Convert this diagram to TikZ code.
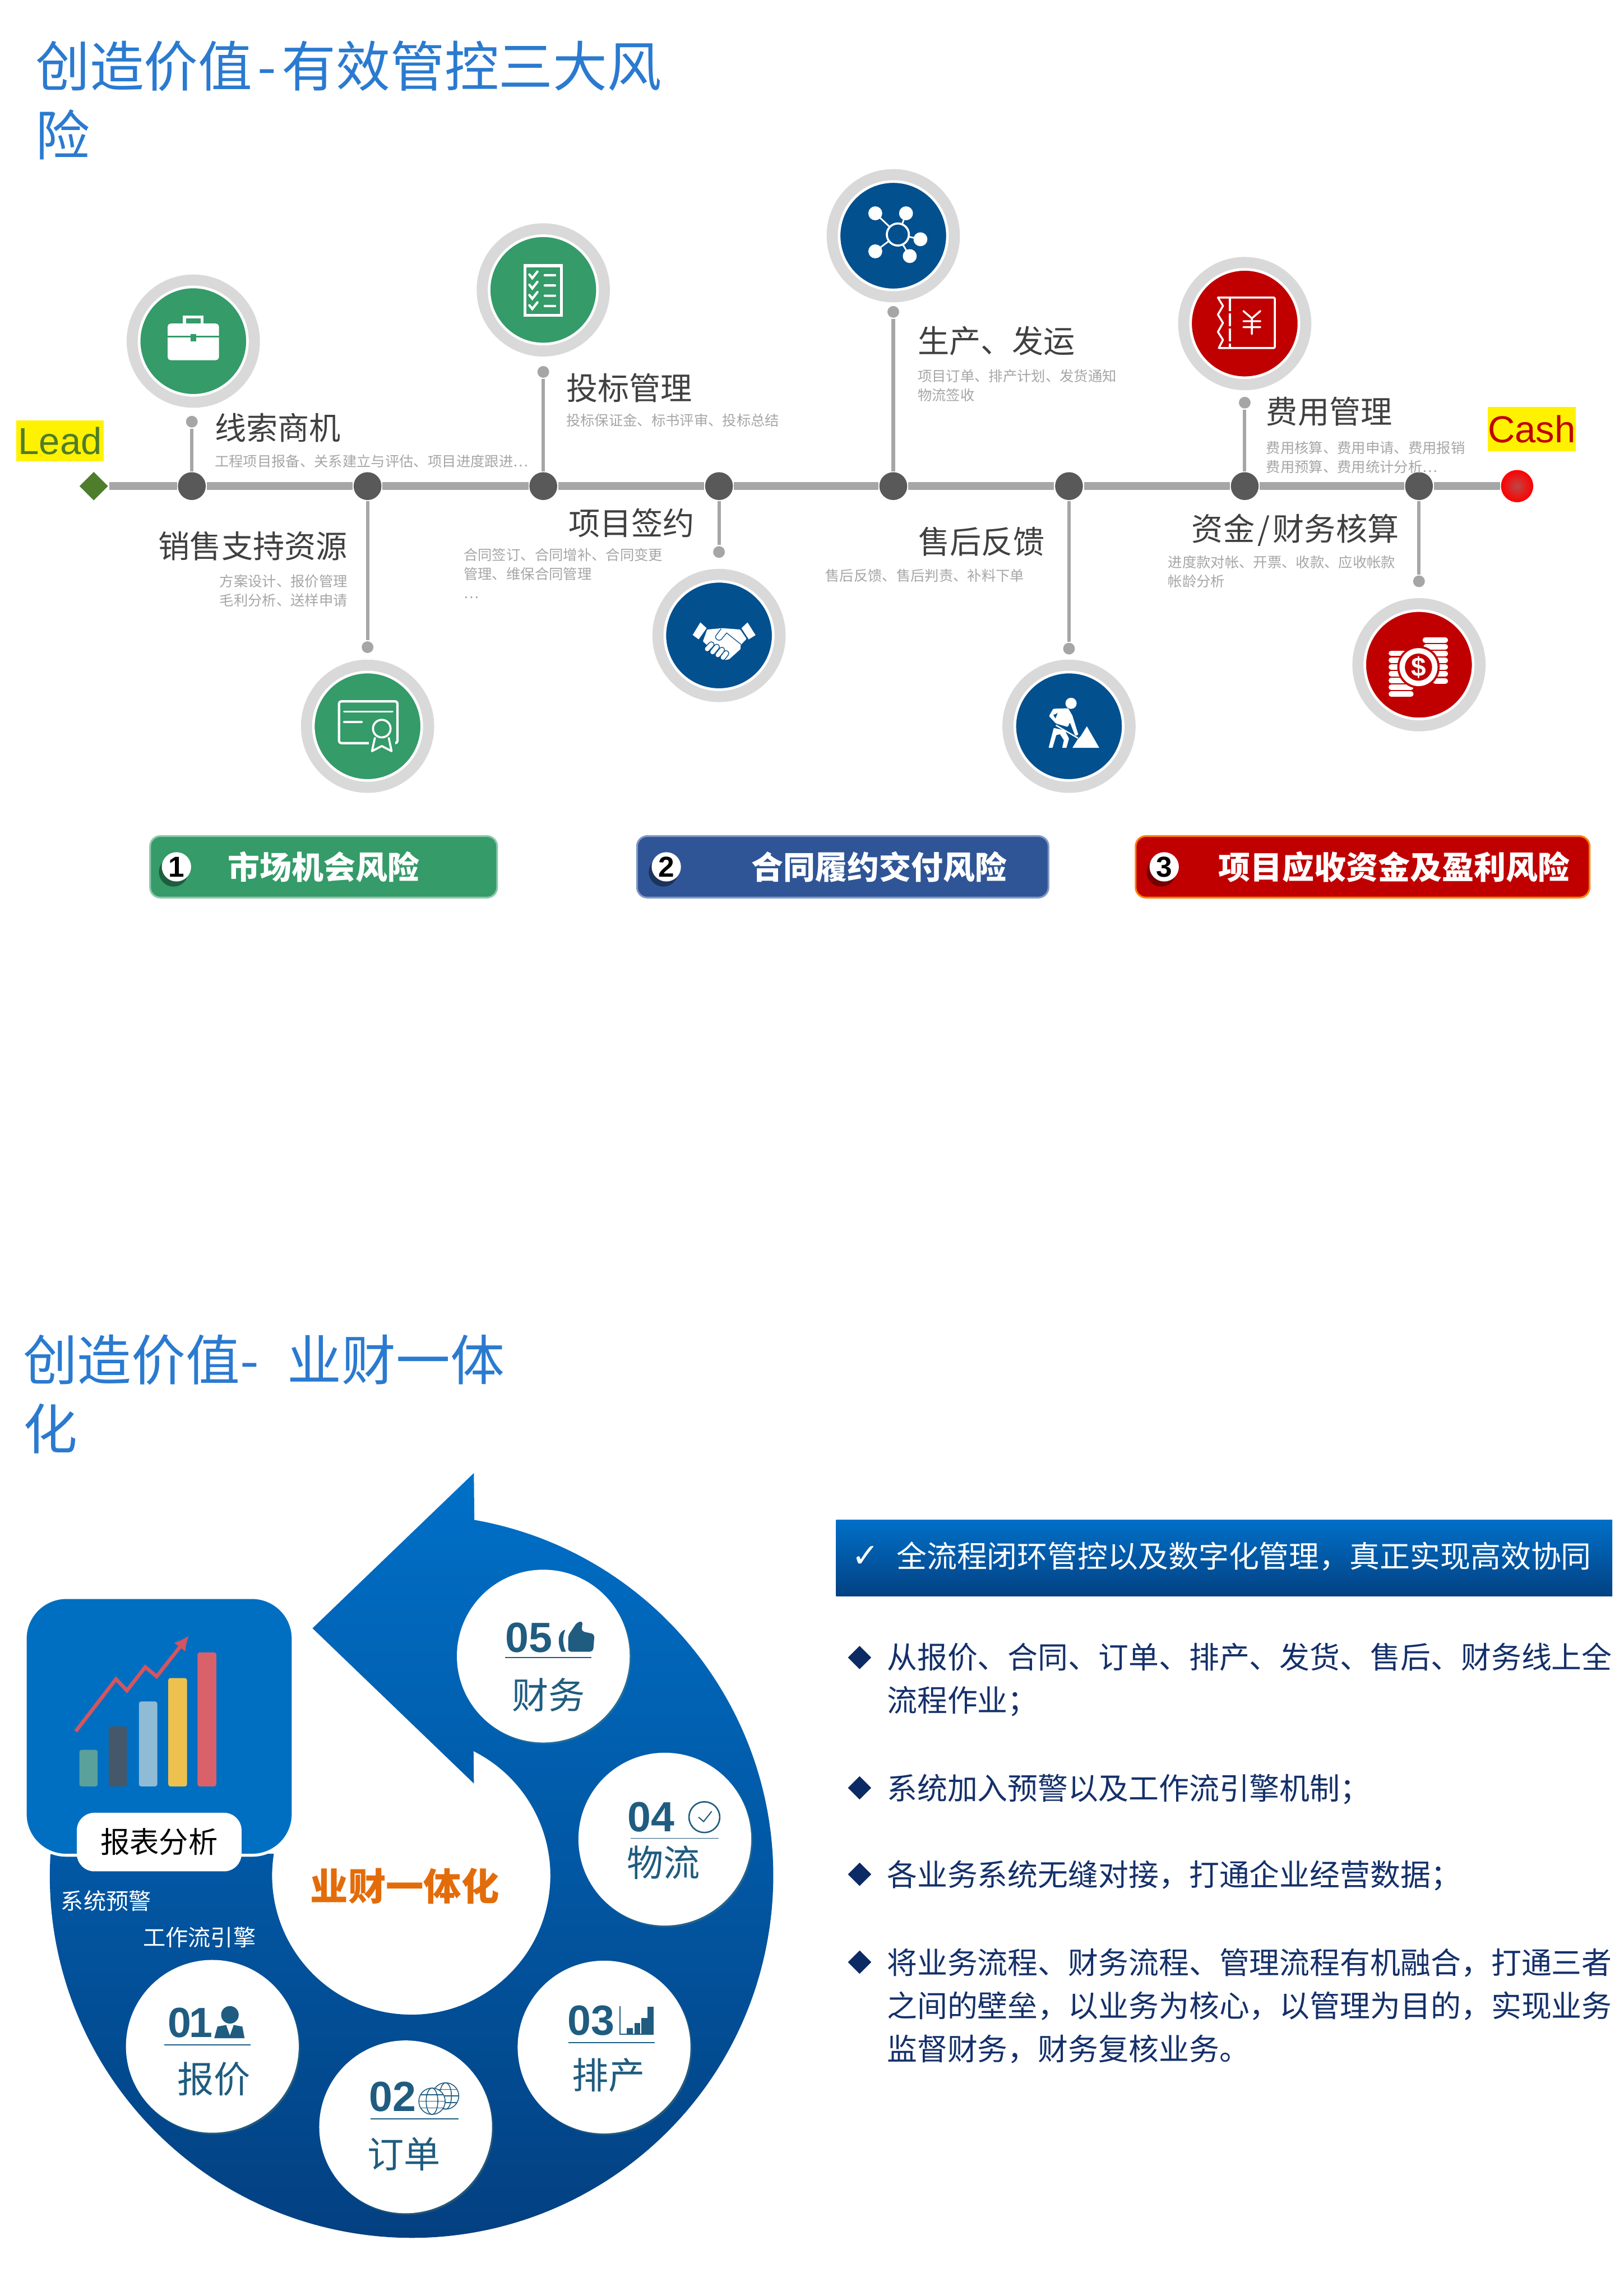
\documentclass[tikz,border=0pt]{standalone}
\usepackage{fontspec}
\usepackage{xcolor}
\usetikzlibrary{shapes.geometric,shadows,arrows.meta}
\setmainfont{Noto Sans CJK SC}
\newfontfamily\latinfont{Liberation Sans}
\newfontfamily\symfont{DejaVu Sans}

\definecolor{titleblue}{HTML}{2A7AD0}
\definecolor{linegray}{HTML}{A6A6A6}
\definecolor{dotgray}{HTML}{595959}
\definecolor{ringgray}{HTML}{D9D9D9}
\definecolor{darktext}{HTML}{404040}
\definecolor{badgegreen}{HTML}{349B69}
\definecolor{badgeblue}{HTML}{03508F}
\definecolor{badgered}{HTML}{C00000}
\definecolor{leadgreen}{HTML}{4E7D2B}
\definecolor{btnblue}{HTML}{2F5597}
\definecolor{ringtop}{HTML}{0070C8}
\definecolor{ringmid}{HTML}{005CAC}
\definecolor{ringbot}{HTML}{033E7E}
\definecolor{rptblue}{HTML}{006FC2}
\definecolor{stepblue}{HTML}{1F5C80}
\definecolor{navytext}{HTML}{14306A}
\definecolor{navymark}{HTML}{0C2A63}
\definecolor{orangetext}{HTML}{E36C0A}

\tikzset{
	mainline/.style={line width=.053cm,color=linegray},
	stemline/.style={line width=.023cm,color=linegray},
	tldot/.style={circle,fill=dotgray,inner sep=0pt,minimum size=.19cm},
	tiptop/.style={circle,fill=linegray,inner sep=0pt,minimum size=.08cm},
	badge/.style={circle,inner sep=0pt,minimum size=.74cm,fill=#1,draw=white,line width=.018cm,
		preaction={draw=ringgray,line width=.17cm}},
	iconpx/.style={x=.001166cm,y=-.001166cm},
	pagetitle/.style={anchor=west,align=left,inner sep=0pt,text=titleblue,font=\fontsize{10.55}{13.4}\selectfont},
	tlhead/.style={inner sep=0pt,text=darktext,font=\fontsize{6.12}{7.5}\selectfont},
	tlnote/.style={inner sep=0pt,text=linegray,font=\fontsize{2.76}{3.7}\selectfont},
	flag/.style={fill=yellow,inner sep=0pt,minimum width=.6cm,font=\latinfont\fontsize{7.3}{9}\selectfont},
	riskbtn/.style={rectangle,rounded corners=.07cm,minimum height=.42cm,line width=.012cm,inner sep=0pt},
	risktxt/.style={inner sep=0pt,text=white,font=\bfseries\fontsize{6.2}{7.5}\selectfont},
	riskno/.style={circle,fill=white,inner sep=0pt,minimum size=.2cm,
		font=\latinfont\bfseries\fontsize{5.6}{6}\selectfont,
		drop shadow={shadow xshift=-.02cm,shadow yshift=-.035cm,fill=black,opacity=.4}},
	stepdisc/.style={circle,fill=white,inner sep=0pt,minimum size=1.18cm,
		drop shadow={shadow xshift=.01cm,shadow yshift=-.012cm,fill=black!40!yellow,opacity=.2}},
	stepno/.style={anchor=west,inner sep=0pt,text=stepblue,font=\latinfont\bfseries\fontsize{8.2}{9}\selectfont},
	steptxt/.style={inner sep=0pt,text=stepblue,font=\fontsize{7.1}{8}\selectfont},
	stepline/.style={line width=.006cm,color=stepblue},
	whitenote/.style={anchor=west,inner sep=0pt,text=white,font=\fontsize{4.38}{5}\selectfont},
	bullet/.style={diamond,fill=navymark,inner sep=0pt,minimum size=.165cm},
	itemtxt/.style={anchor=west,align=left,inner sep=0pt,text=navytext,font=\fontsize{5.87}{8.42}\selectfont},
}

\begin{document}
\begin{tikzpicture}
	\useasboundingbox (0,0) rectangle (11.09,15.68);

	% Titles
	\node[pagetitle] (title1) at (.235,14.995) {创造价值\hspace{.035cm}-\hspace{.035cm}有效管控三大风\\险};
	\node[pagetitle] (title2) at (.15,6.16) {创造价值-\hspace{.11cm} 业财一体\\化};

	% Timeline ends and points
	\node[diamond,fill=leadgreen,inner sep=0pt,minimum size=.2cm] (lead) at (.64,12.36) {};
	\node[circle,inner sep=0pt,minimum size=.22cm,inner color={rgb,255:red,190;green,70;blue,70},outer color=red] (cash) at (10.36,12.36) {};
	\node[tldot] (d1) at (1.31,12.36) {};
	\node[tldot] (d2) at (2.51,12.36) {};
	\node[tldot] (d3) at (3.71,12.36) {};
	\node[tldot] (d4) at (4.91,12.36) {};
	\node[tldot] (d5) at (6.10,12.36) {};
	\node[tldot] (d6) at (7.30,12.36) {};
	\node[tldot] (d7) at (8.50,12.36) {};
	\node[tldot] (d8) at (9.69,12.36) {};
	\draw[mainline] (lead) -- (d1) -- (d2) -- (d3) -- (d4) -- (d5) -- (d6) -- (d7) -- (d8) -- (cash);

	% Stems
	\node[tiptop] (t1) at (1.31,12.80) {};
	\node[tiptop] (t2) at (2.51,11.26) {};
	\node[tiptop] (t3) at (3.71,13.14) {};
	\node[tiptop] (t4) at (4.91,11.91) {};
	\node[tiptop] (t5) at (6.10,13.55) {};
	\node[tiptop] (t6) at (7.30,11.25) {};
	\node[tiptop] (t7) at (8.50,12.93) {};
	\node[tiptop] (t8) at (9.69,11.71) {};
	\draw[stemline] (d1) -- (t1);
	\draw[stemline] (d2) -- (t2);
	\draw[stemline] (d3) -- (t3);
	\draw[stemline] (d4) -- (t4);
	\draw[stemline] (d5) -- (t5);
	\draw[stemline] (d6) -- (t6);
	\draw[stemline] (d7) -- (t7);
	\draw[stemline] (d8) -- (t8);

	% Lead and Cash flags
	\node[flag,minimum height=.28cm,text=leadgreen] (leadflag) at (.41,12.67) {Lead};
	\node[flag,minimum height=.30cm,text=badgered] (cashflag) at (10.46,12.75) {Cash};

	% Badges
	\node[badge=badgegreen] (ic1) at (1.32,13.35) {};
	\node[badge=badgegreen] (ic2) at (3.71,13.70) {};
	\node[badge=badgegreen] (ic3) at (2.51,10.72) {};
	\node[badge=badgeblue] (ic4) at (4.91,11.34) {};
	\node[badge=badgeblue] (ic5) at (6.10,14.07) {};
	\node[badge=badgeblue] (ic6) at (7.30,10.72) {};
	\node[badge=badgered] (ic7) at (8.50,13.47) {};
	\node[badge=badgered] (ic8) at (9.69,11.14) {};

	% Briefcase
	\begin{scope}[shift={(ic1.center)}]
		\fill[white,rounded corners=.02cm] (-.175,-.13) rectangle (.175,.12);
		\draw[white,line width=.022cm] (-.06,.12) -- (-.06,.165) -- (.06,.165) -- (.06,.12);
		\draw[badgegreen,line width=.012cm] (-.175,.03) -- (.175,.03);
		\fill[badgegreen] (-.02,0) rectangle (.02,.05);
	\end{scope}

	% Checklist
	\begin{scope}[shift={(ic2.center)},line cap=round]
		\draw[white,line width=.02cm] (-.125,-.175) rectangle (.125,.165);
		\draw[white,line width=.016cm] (-.095,.105) -- (-.075,.08) -- (-.04,.125) (.01,.10) -- (.08,.10);
		\draw[white,line width=.016cm] (-.095,.035) -- (-.075,.01) -- (-.04,.055) (.01,.03) -- (.08,.03);
		\draw[white,line width=.016cm] (-.095,-.035) -- (-.075,-.06) -- (-.04,-.015) (.01,-.04) -- (.08,-.04);
		\draw[white,line width=.016cm] (-.095,-.105) -- (-.075,-.13) -- (-.04,-.085) (.01,-.11) -- (.08,-.11);
	\end{scope}

	% Certificate
	\begin{scope}[shift={(ic3.center)},line cap=round,line join=round]
		\draw[white,line width=.016cm,rounded corners=.015cm] (-.195,-.115) rectangle (.204,.17);
		\fill[badgegreen] (.01,-.19) rectangle (.19,.07);
		\draw[white,line width=.014cm] (-.16,.10) -- (.17,.10) (-.16,.03) -- (-.04,.03);
		\draw[white,line width=.014cm] (.097,-.016) circle (.06);
		\draw[white,line width=.014cm] (.05,-.08) -- (.03,-.17) -- (.097,-.135) -- (.164,-.17) -- (.145,-.08);
		\draw[white,line width=.016cm] (.204,.07) -- (.204,-.07);
	\end{scope}

	% Handshake
	\begin{scope}[shift={(ic4.center)},iconpx,shift={(-310,-305)}]
		\fill[white] (200,228) -- (237,262) -- (190,328) -- (155,302) -- cycle;
		\fill[white] (478,228) -- (525,303) -- (485,328) -- (442,262) -- cycle;
		\fill[white,rounded corners=.004cm] (240,270) -- (330,262) -- (435,270) -- (472,325) -- (437,362) -- (437,385) -- (370,445) -- (345,450) -- (300,415) -- (215,340) -- cycle;
		\draw[badgeblue,line width=.005cm,line join=round] (322,266) -- (290,308) .. controls (285,325) and (305,340) .. (322,330) -- (355,290) -- (440,358);
		\draw[badgeblue,line width=.042cm,line cap=round] (240,385) -- (265,358) (272,403) -- (297,372) (303,420) -- (327,390) (333,435) -- (352,410);
		\draw[white,line width=.03cm,line cap=round] (240,385) -- (265,358) (272,403) -- (297,372) (303,420) -- (327,390) (333,435) -- (352,410);
	\end{scope}

	% Hub with five satellites
	\begin{scope}[shift={(ic5.center)},iconpx,shift={(-318,-332)}]
		\draw[white,line width=.014cm] (345,325) circle[radius=65];
		\draw[white,line width=.011cm] (212,200) -- (297,280) (393,200) -- (370,265) (478,353) -- (410,338) (212,424) -- (290,365) (415,452) -- (375,385);
		\fill[white] (212,200) circle[radius=41];
		\fill[white] (393,200) circle[radius=41];
		\fill[white] (478,353) circle[radius=41];
		\fill[white] (212,424) circle[radius=41];
		\fill[white] (415,452) circle[radius=41];
	\end{scope}

	% Digger at a mound
	\begin{scope}[shift={(ic6.center)},iconpx,shift={(-325,-328)}]
		\fill[white] (337,193) circle[radius=33];
		\fill[white,rounded corners=.005cm] (232,225) -- (320,222) -- (345,265) -- (380,378) -- (362,385) -- (330,305) -- (318,332) -- (248,312) -- (207,268) -- cycle;
		\fill[badgeblue] (233,262) -- (258,250) -- (245,282) -- cycle;
		\fill[white,rounded corners=.003cm] (205,455) -- (235,338) -- (300,352) -- (325,400) -- (310,455) -- (285,455) -- (295,410) -- (272,375) -- (250,380) -- (228,455) -- cycle;
		\draw[white,line width=.009cm] (248,322) -- (378,398);
		\fill[white,rounded corners=.002cm] (345,455) -- (378,402) -- (395,385) -- (430,328) -- (503,455) -- cycle;
	\end{scope}

	% Receipt with yen
	\begin{scope}[shift={(ic7.center)},iconpx,shift={(-333,-336)},line join=round,line cap=round]
		\draw[white,line width=.013cm] (175,183) -- (505,183) -- (510,188) -- (510,475) -- (505,480) -- (180,480) -- (205,432) -- (175,385) -- (205,332) -- (175,283) -- (205,232) -- cycle;
		\draw[white,line width=.016cm,line cap=butt,dash pattern=on .09cm off .014cm] (245,185) -- (245,478);
		\draw[white,line width=.013cm] (325,262) -- (375,305) -- (425,262) (375,305) -- (375,398) (325,322) -- (425,322) (325,357) -- (425,357);
	\end{scope}

	% Coins
	\begin{scope}[shift={(ic8.center)},iconpx,shift={(-333,-324)},line cap=round]
		\draw[white,line width=.037cm] (170,257) -- (280,257) (170,297) -- (280,297) (170,337) -- (280,337) (170,377) -- (280,377) (170,417) -- (280,417) (170,457) -- (285,457) (170,497) -- (285,497);
		\draw[white,line width=.037cm] (370,178) -- (488,178) (375,218) -- (488,218) (380,258) -- (488,258) (380,298) -- (488,298) (380,338) -- (488,338) (380,378) -- (488,378) (430,420) -- (488,420);
		\fill[badgered] (330,338) circle[radius=125];
		\fill[white] (330,338) circle[radius=112];
		\fill[badgered] (330,338) circle[radius=80];
		\node[inner sep=0pt,text=white,font=\latinfont\bfseries\fontsize{5.2}{6}\selectfont] (dollar) at (330,338) {\$};
	\end{scope}

	% Timeline labels
	\node[tlhead,anchor=west] (h1) at (1.46,12.76) {线索商机};
	\node[tlnote,anchor=west] (n1) at (1.46,12.53) {工程项目报备、关系建立与评估、项目进度跟进…};
	\node[tlhead,anchor=east] (h2) at (2.38,11.95) {销售支持资源};
	\node[tlnote,anchor=east,align=right] (n2) at (2.38,11.645) {方案设计、报价管理\\毛利分析、送样申请};
	\node[tlhead,anchor=west] (h3) at (3.86,13.03) {投标管理};
	\node[tlnote,anchor=west] (n3) at (3.86,12.81) {投标保证金、标书评审、投标总结};
	\node[tlhead,anchor=east] (h4) at (4.75,12.11) {项目签约};
	\node[tlnote,anchor=west,align=left] (n4) at (3.16,11.765) {合同签订、合同增补、合同变更\\管理、维保合同管理\\…};
	\node[tlhead,anchor=west] (h5) at (6.26,13.35) {生产、发运};
	\node[tlnote,anchor=west,align=left] (n5) at (6.26,13.045) {项目订单、排产计划、发货通知\\物流签收};
	\node[tlhead,anchor=east] (h6) at (7.14,11.98) {售后反馈};
	\node[tlnote,anchor=west] (n6) at (5.63,11.75) {售后反馈、售后判责、补料下单};
	\node[tlhead,anchor=west] (h7) at (8.64,12.87) {费用管理};
	\node[tlnote,anchor=west,align=left] (n7) at (8.64,12.555) {费用核算、费用申请、费用报销\\费用预算、费用统计分析…};
	\node[tlhead,anchor=east] (h8) at (9.56,12.06) {资金\hspace{.02cm}/\hspace{.02cm}财务核算};
	\node[tlnote,anchor=west,align=left] (n8) at (7.97,11.775) {进度款对帐、开票、收款、应收帐款\\帐龄分析};

	% Risk buttons
	\node[riskbtn,fill=badgegreen,draw=badgegreen!55!white,minimum width=2.37cm] (btn1) at (2.21,9.76) {};
	\node[riskbtn,fill=btnblue,draw=btnblue!60!white,minimum width=2.81cm] (btn2) at (5.755,9.76) {};
	\node[riskbtn,fill=badgered,draw=orange,minimum width=3.10cm] (btn3) at (9.305,9.76) {};
	\node[riskno] (no1) at (1.205,9.76) {1};
	\node[riskno] (no2) at (4.55,9.76) {2};
	\node[riskno] (no3) at (7.95,9.76) {3};
	\node[risktxt,anchor=west] (risk1) at (1.55,9.76) {市场机会风险};
	\node[risktxt,anchor=west] (risk2) at (5.125,9.76) {合同履约交付风险};
	\node[risktxt,anchor=west] (risk3) at (8.315,9.76) {项目应收资金及盈利风险};

	% Curved arrow
	\shade[top color=ringtop,middle color=ringmid,bottom color=ringbot]
		(3.236,5.62) -- (3.239,5.30)
		arc[start angle=80,end angle=-183.5,radius=2.47]
		-- (1.87,3.02)
		arc[start angle=-189,end angle=63.4,radius=.95]
		-- (3.236,3.50) -- (2.134,4.56) -- cycle;

	% Report box
	\node[rectangle,rounded corners=.28cm,fill=rptblue,draw=white,line width=.02cm,minimum width=1.83cm,minimum height=1.76cm] (rptbox) at (1.087,3.89) {};
	\fill[rounded corners=.015cm,fill={rgb,255:red,90;green,161;blue,155}] (.542,3.48) rectangle (.667,3.73);
	\fill[rounded corners=.015cm,fill={rgb,255:red,68;green,88;blue,106}] (.742,3.48) rectangle (.867,3.89);
	\fill[rounded corners=.015cm,fill={rgb,255:red,143;green,188;blue,212}] (.949,3.48) rectangle (1.074,4.06);
	\fill[rounded corners=.015cm,fill={rgb,255:red,238;green,193;blue,79}] (1.149,3.48) rectangle (1.277,4.22);
	\fill[rounded corners=.015cm,fill={rgb,255:red,217;green,98;blue,106}] (1.349,3.48) rectangle (1.477,4.395);
	\draw[-{Latex[length=.1cm,width=.1cm]},line width=.025cm,color={rgb,255:red,212;green,85;blue,95}] (.517,3.856) -- (.792,4.213) -- (.867,4.135) -- (.992,4.295) -- (1.07,4.231) -- (1.29,4.51);
	\node[rectangle,rounded corners=.12cm,fill=white,inner sep=0pt,minimum width=1.125cm,minimum height=.40cm,font=\fontsize{5.7}{7}\selectfont] (rptlabel) at (1.087,3.10) {\raisebox{-.02cm}{报表分析}};
	\node[whitenote] (warn) at (.41,2.70) {系统预警};
	\node[whitenote] (flow) at (.97,2.45) {工作流引擎};

	% Centre label
	\node[inner sep=0pt,text=orangetext,font=\bfseries\fontsize{7.34}{9}\selectfont] (centre) at (2.765,2.80) {业财一体化};

	% Step discs
	\node[stepdisc] (s5) at (3.71,4.37) {};
	\node[stepdisc] (s4) at (4.54,3.12) {};
	\node[stepdisc] (s3) at (4.125,1.70) {};
	\node[stepdisc] (s2) at (2.77,1.155) {};
	\node[stepdisc] (s1) at (1.45,1.705) {};

	% Step 05
	\node[stepno] (no05) at (3.445,4.495) {05};
	\draw[stepline] (3.45,4.36) -- (4.04,4.36);
	\node[steptxt] (txt5) at (3.745,4.105) {财务};
	\fill[stepblue] (3.835,4.40) .. controls (3.80,4.47) and (3.815,4.54) .. (3.86,4.55) .. controls (3.84,4.50) and (3.84,4.45) .. (3.865,4.40) -- cycle;
	\fill[stepblue,rounded corners=.02cm] (3.88,4.40) -- (4.05,4.40) -- (4.06,4.52) -- (3.97,4.54) -- (3.98,4.61) -- (3.94,4.60) -- (3.88,4.51) -- cycle;

	% Step 04
	\node[stepno] (no04) at (4.28,3.27) {04};
	\draw[stepblue,line width=.01cm] (4.81,3.27) circle (.105);
	\draw[stepblue,line width=.008cm] (4.77,3.27) -- (4.805,3.24) -- (4.86,3.31);
	\draw[stepline] (4.306,3.125) -- (4.906,3.125);
	\node[steptxt] (txt4) at (4.53,2.96) {物流};

	% Step 03
	\node[stepno] (no03) at (3.87,1.88) {03};
	\draw[stepblue,line width=.008cm] (4.235,1.98) -- (4.235,1.787) -- (4.465,1.787);
	\fill[stepblue] (4.28,1.79) rectangle (4.32,1.83);
	\fill[stepblue] (4.333,1.79) rectangle (4.373,1.865);
	\fill[stepblue] (4.38,1.79) rectangle (4.42,1.90);
	\fill[stepblue] (4.423,1.79) rectangle (4.463,1.976);
	\draw[stepline] (3.88,1.73) -- (4.47,1.73);
	\node[steptxt] (txt3) at (4.155,1.51) {排产};

	% Step 02
	\node[stepno] (no02) at (2.515,1.36) {02};
	\begin{scope}[stepblue,line width=.006cm]
		\draw (3.043,1.366) circle (.09);
		\draw (3.043,1.366) ellipse (.04 and .09);
		\draw (2.953,1.366) -- (3.133,1.366) (2.965,1.41) -- (3.121,1.41) (2.965,1.32) -- (3.121,1.32);
		\fill[white] (2.95,1.33) circle (.09);
		\draw (2.95,1.33) circle (.09);
		\draw (2.95,1.33) ellipse (.04 and .09);
		\draw (2.86,1.33) -- (3.04,1.33) (2.872,1.375) -- (3.028,1.375) (2.872,1.285) -- (3.028,1.285);
	\end{scope}
	\draw[stepline] (2.53,1.21) -- (3.13,1.21);
	\node[steptxt] (txt2) at (2.76,.97) {订单};

	% Step 01
	\node[stepno] (no01) at (1.14,1.865) {0\kern-.015cm 1};
	\fill[stepblue] (1.57,1.92) circle (.06);
	\fill[stepblue] (1.463,1.76) -- (1.485,1.84) -- (1.54,1.85) -- (1.60,1.85) -- (1.655,1.84) -- (1.67,1.76) -- cycle;
	\fill[white] (1.545,1.85) -- (1.595,1.85) -- (1.57,1.78) -- cycle;
	\draw[stepline] (1.12,1.715) -- (1.71,1.715);
	\node[steptxt] (txt1) at (1.46,1.48) {报价};

	% Right panel
	\node[rectangle,inner sep=0pt,minimum width=5.30cm,minimum height=.52cm,top color=ringtop,bottom color=ringbot!90!ringmid] (topbar) at (8.36,5.04) {};
	\node[inner sep=0pt,text=white,font=\symfont\fontsize{6.4}{7}\selectfont] (tick) at (5.91,5.05) {✓};
	\node[whitenote,font=\fontsize{5.87}{7}\selectfont] (bartxt) at (6.115,5.05) {全流程闭环管控以及数字化管理，真正实现高效协同};

	\node[bullet] (b1) at (5.87,4.36) {};
	\node[bullet] (b2) at (5.87,3.47) {};
	\node[bullet] (b3) at (5.87,2.88) {};
	\node[bullet] (b4) at (5.87,2.28) {};
	\node[itemtxt] (i1) at (6.05,4.21) {从报价、合同、订单、排产、发货、售后、财务线上全\\流程作业；};
	\node[itemtxt] (i2) at (6.05,3.46) {系统加入预警以及工作流引擎机制；};
	\node[itemtxt] (i3) at (6.05,2.87) {各业务系统无缝对接，打通企业经营数据；};
	\node[itemtxt] (i4) at (6.05,1.98) {将业务流程、财务流程、管理流程有机融合，打通三者\\之间的壁垒，以业务为核心，以管理为目的，实现业务\\监督财务，财务复核业务。};
\end{tikzpicture}
\end{document}
